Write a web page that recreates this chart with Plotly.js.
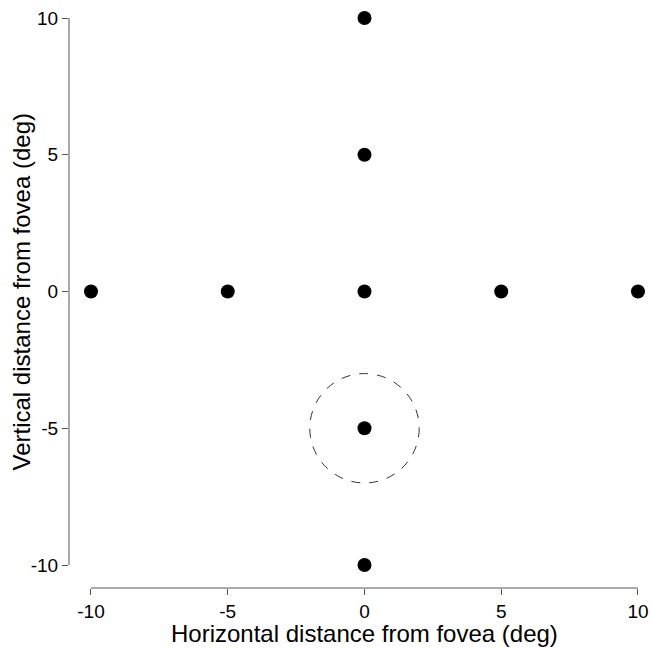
<!DOCTYPE html>
<html><head><meta charset="utf-8">
<script src="https://cdn.plot.ly/plotly-3.0.1.min.js"></script>
<style>html,body{margin:0;padding:0;background:#fff}</style>
</head><body>
<div id="chart" style="width:652px;height:648px"></div>
<script>
const xPos = [0, 0, -10, -5, 0, 5, 10, 0, 0];
const yPos = [10, 5, 0, 0, 0, 0, 0, -5, -10];
const tickVals = [-10, -5, 0, 5, 10];
const tickText = ['-10', '-5', '0', '5', '10'];
const circleCenter = [0, -5];
const circleRadius = 2;
const xTitle = 'Horizontal distance from fovea (deg)';
const yTitle = 'Vertical distance from fovea (deg)';

const xr = [-10.804, 10.11];
const yr = [-10.84, 10.11];
const font = {family: 'Liberation Sans, Arial, sans-serif', color: '#000'};

Plotly.newPlot('chart', [{
  x: xPos, y: yPos, type: 'scatter', mode: 'markers',
  marker: {color: '#000', size: 14}, cliponaxis: false, hoverinfo: 'none'
}], {
  width: 652, height: 648,
  margin: {l: 69, r: 11, t: 15, b: 60},
  paper_bgcolor: '#fff', plot_bgcolor: '#fff',
  showlegend: false,
  font: Object.assign({size: 19}, font),
  xaxis: {range: xr, showgrid: false, zeroline: false, showline: false,
    tickmode: 'array', tickvals: tickVals, ticktext: tickText,
    ticks: 'outside', ticklen: 6, tickwidth: 1, tickcolor: '#555',
    tickfont: Object.assign({size: 19}, font)},
  yaxis: {range: yr, showgrid: false, zeroline: false, showline: false,
    tickmode: 'array', tickvals: tickVals, ticktext: tickText,
    ticks: 'outside', ticklen: 6, tickwidth: 1, tickcolor: '#555',
    tickfont: Object.assign({size: 19}, font)},
  annotations: [
    {text: xTitle, xref: 'x', yref: 'paper', x: 0, y: 0, xanchor: 'center', yanchor: 'middle',
      yshift: -45, showarrow: false, font: Object.assign({size: 24}, font)},
    {text: yTitle, xref: 'paper', yref: 'y', x: 0, y: 0, xanchor: 'center', yanchor: 'middle',
      xshift: -47, textangle: -90, showarrow: false, font: Object.assign({size: 24}, font)}
  ],
  shapes: [
    {type: 'line', xref: 'paper', yref: 'y', x0: 0, x1: 0, y0: tickVals[0], y1: tickVals[tickVals.length-1], line: {color: '#555', width: 1}},
    {type: 'line', xref: 'x', yref: 'paper', x0: tickVals[0], x1: tickVals[tickVals.length-1], y0: 0, y1: 0, line: {color: '#555', width: 1}},
    {type: 'circle', xref: 'x', yref: 'y',
      x0: circleCenter[0]-circleRadius, x1: circleCenter[0]+circleRadius,
      y0: circleCenter[1]-circleRadius, y1: circleCenter[1]+circleRadius,
      line: {color: '#333', width: 1, dash: 'dash'}}
  ]
}, {staticPlot: true});
</script>
</body></html>
